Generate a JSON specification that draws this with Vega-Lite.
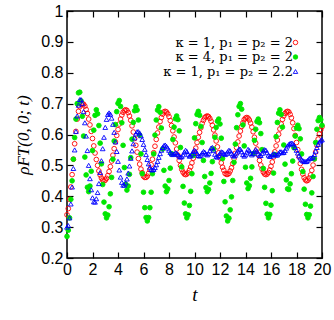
{
"$schema": "https://vega.github.io/schema/vega-lite/v6.json",
"width": 255, "height": 247,
"autosize": {"type": "none"},
"padding": {"left": 67, "top": 11, "right": 12, "bottom": 62},
"background": "white",
"config": {
  "view": {"stroke": "black", "strokeWidth": 1.5},
  "axis": {"grid": false, "domain": false, "tickColor": "black", "tickWidth": 1.2, "tickSize": -6, "labelColor": "black", "labelFont": "Liberation Sans", "labelFontSize": 16, "labelFlush": false, "labelOverlap": false, "titleColor": "black", "titleFont": "Liberation Serif", "titleFontStyle": "italic", "titleFontWeight": "normal"},
  "legend": {"title": null, "orient": "none", "legendX": 222, "legendY": 25, "labelAlign": "right", "labelOffset": -9, "labelFont": "DejaVu Serif", "labelFontSize": 13, "labelColor": "black", "labelLimit": 400, "rowPadding": 0.5, "padding": 0, "symbolSize": 20, "symbolStrokeWidth": 0.9}
},
"data": {"values": [
{"t":0.0,"s1":0.34,"s2":0.27,"s3":0.30},
{"t":0.1,"s1":0.36,"s2":0.29,"s3":0.305},
{"t":0.2,"s1":0.39,"s2":0.33,"s3":0.33},
{"t":0.3,"s1":0.43,"s2":0.39,"s3":0.375},
{"t":0.4,"s1":0.47,"s2":0.45,"s3":0.43},
{"t":0.5,"s1":0.52,"s2":0.52,"s3":0.49},
{"t":0.6,"s1":0.57,"s2":0.59,"s3":0.55},
{"t":0.7,"s1":0.61,"s2":0.65,"s3":0.61},
{"t":0.8,"s1":0.65,"s2":0.70,"s3":0.66},
{"t":0.9,"s1":0.675,"s2":0.735,"s3":0.695},
{"t":1.0,"s1":0.69,"s2":0.737,"s3":0.713},
{"t":1.1,"s1":0.698,"s2":0.709,"s3":0.713},
{"t":1.2,"s1":0.70,"s2":0.659,"s3":0.70},
{"t":1.3,"s1":0.698,"s2":0.595,"s3":0.674},
{"t":1.4,"s1":0.692,"s2":0.527,"s3":0.638},
{"t":1.5,"s1":0.681,"s2":0.469,"s3":0.595},
{"t":1.6,"s1":0.668,"s2":0.429,"s3":0.548},
{"t":1.7,"s1":0.65,"s2":0.415,"s3":0.50},
{"t":1.8,"s1":0.631,"s2":0.433,"s3":0.457},
{"t":1.9,"s1":0.61,"s2":0.481,"s3":0.421},
{"t":2.0,"s1":0.587,"s2":0.548,"s3":0.395},
{"t":2.1,"s1":0.563,"s2":0.614,"s3":0.382},
{"t":2.2,"s1":0.54,"s2":0.662,"s3":0.381},
{"t":2.3,"s1":0.519,"s2":0.68,"s3":0.392},
{"t":2.4,"s1":0.50,"s2":0.667,"s3":0.412},
{"t":2.5,"s1":0.482,"s2":0.629,"s3":0.441},
{"t":2.6,"s1":0.469,"s2":0.572,"s3":0.477},
{"t":2.7,"s1":0.459,"s2":0.505,"s3":0.515},
{"t":2.8,"s1":0.452,"s2":0.438,"s3":0.554},
{"t":2.9,"s1":0.45,"s2":0.381,"s3":0.591},
{"t":3.0,"s1":0.452,"s2":0.343,"s3":0.623},
{"t":3.1,"s1":0.458,"s2":0.33,"s3":0.649},
{"t":3.2,"s1":0.467,"s2":0.339,"s3":0.665},
{"t":3.3,"s1":0.48,"s2":0.366,"s3":0.67},
{"t":3.4,"s1":0.496,"s2":0.408,"s3":0.666},
{"t":3.5,"s1":0.514,"s2":0.461,"s3":0.653},
{"t":3.6,"s1":0.533,"s2":0.52,"s3":0.633},
{"t":3.7,"s1":0.554,"s2":0.579,"s3":0.607},
{"t":3.8,"s1":0.576,"s2":0.632,"s3":0.576},
{"t":3.9,"s1":0.597,"s2":0.674,"s3":0.545},
{"t":4.0,"s1":0.616,"s2":0.701,"s3":0.513},
{"t":4.1,"s1":0.634,"s2":0.71,"s3":0.485},
{"t":4.2,"s1":0.65,"s2":0.691,"s3":0.462},
{"t":4.3,"s1":0.663,"s2":0.638,"s3":0.445},
{"t":4.4,"s1":0.672,"s2":0.565,"s3":0.436},
{"t":4.5,"s1":0.678,"s2":0.493,"s3":0.436},
{"t":4.6,"s1":0.68,"s2":0.439,"s3":0.443},
{"t":4.7,"s1":0.678,"s2":0.42,"s3":0.456},
{"t":4.8,"s1":0.671,"s2":0.433,"s3":0.475},
{"t":4.9,"s1":0.66,"s2":0.471,"s3":0.498},
{"t":5.0,"s1":0.646,"s2":0.525,"s3":0.523},
{"t":5.1,"s1":0.628,"s2":0.585,"s3":0.547},
{"t":5.2,"s1":0.608,"s2":0.639,"s3":0.570},
{"t":5.3,"s1":0.587,"s2":0.677,"s3":0.589},
{"t":5.4,"s1":0.565,"s2":0.69,"s3":0.602},
{"t":5.5,"s1":0.543,"s2":0.679,"s3":0.609},
{"t":5.6,"s1":0.522,"s2":0.647,"s3":0.609},
{"t":5.7,"s1":0.504,"s2":0.598,"s3":0.605},
{"t":5.8,"s1":0.488,"s2":0.537,"s3":0.596},
{"t":5.9,"s1":0.476,"s2":0.473,"s3":0.584},
{"t":6.0,"s1":0.465,"s2":0.413,"s3":0.568},
{"t":6.1,"s1":0.461,"s2":0.363,"s3":0.552},
{"t":6.2,"s1":0.461,"s2":0.331,"s3":0.535},
{"t":6.3,"s1":0.465,"s2":0.32,"s3":0.519},
{"t":6.4,"s1":0.474,"s2":0.331,"s3":0.505},
{"t":6.5,"s1":0.486,"s2":0.363,"s3":0.494},
{"t":6.6,"s1":0.502,"s2":0.413,"s3":0.487},
{"t":6.7,"s1":0.52,"s2":0.473,"s3":0.485},
{"t":6.8,"s1":0.541,"s2":0.537,"s3":0.487},
{"t":6.9,"s1":0.562,"s2":0.598,"s3":0.493},
{"t":7.0,"s1":0.584,"s2":0.647,"s3":0.502},
{"t":7.1,"s1":0.605,"s2":0.679,"s3":0.513},
{"t":7.2,"s1":0.624,"s2":0.69,"s3":0.526},
{"t":7.3,"s1":0.642,"s2":0.672,"s3":0.538},
{"t":7.4,"s1":0.655,"s2":0.621,"s3":0.549},
{"t":7.5,"s1":0.666,"s2":0.553,"s3":0.558},
{"t":7.6,"s1":0.673,"s2":0.484,"s3":0.564},
{"t":7.7,"s1":0.675,"s2":0.433,"s3":0.566},
{"t":7.8,"s1":0.673,"s2":0.415,"s3":0.562},
{"t":7.9,"s1":0.667,"s2":0.424,"s3":0.556},
{"t":8.0,"s1":0.658,"s2":0.451,"s3":0.549},
{"t":8.1,"s1":0.645,"s2":0.491,"s3":0.542},
{"t":8.2,"s1":0.629,"s2":0.538,"s3":0.537},
{"t":8.3,"s1":0.612,"s2":0.584,"s3":0.535},
{"t":8.4,"s1":0.592,"s2":0.624,"s3":0.537},
{"t":8.5,"s1":0.573,"s2":0.651,"s3":0.541},
{"t":8.6,"s1":0.553,"s2":0.66,"s3":0.54},
{"t":8.7,"s1":0.533,"s2":0.648,"s3":0.535},
{"t":8.8,"s1":0.516,"s2":0.612,"s3":0.53},
{"t":8.9,"s1":0.50,"s2":0.558,"s3":0.527},
{"t":9.0,"s1":0.487,"s2":0.495,"s3":0.528},
{"t":9.1,"s1":0.478,"s2":0.432,"s3":0.534},
{"t":9.2,"s1":0.472,"s2":0.378,"s3":0.543},
{"t":9.3,"s1":0.47,"s2":0.343,"s3":0.549},
{"t":9.4,"s1":0.472,"s2":0.33,"s3":0.545},
{"t":9.5,"s1":0.476,"s2":0.34,"s3":0.536},
{"t":9.6,"s1":0.484,"s2":0.37,"s3":0.53},
{"t":9.7,"s1":0.495,"s2":0.416,"s3":0.531},
{"t":9.8,"s1":0.508,"s2":0.473,"s3":0.537},
{"t":9.9,"s1":0.523,"s2":0.532,"s3":0.545},
{"t":10.0,"s1":0.539,"s2":0.589,"s3":0.549},
{"t":10.1,"s1":0.556,"s2":0.635,"s3":0.546},
{"t":10.2,"s1":0.574,"s2":0.665,"s3":0.538},
{"t":10.3,"s1":0.591,"s2":0.675,"s3":0.532},
{"t":10.4,"s1":0.607,"s2":0.662,"s3":0.53},
{"t":10.5,"s1":0.622,"s2":0.626,"s3":0.533},
{"t":10.6,"s1":0.636,"s2":0.574,"s3":0.54},
{"t":10.7,"s1":0.646,"s2":0.516,"s3":0.545},
{"t":10.8,"s1":0.654,"s2":0.464,"s3":0.543},
{"t":10.9,"s1":0.658,"s2":0.428,"s3":0.537},
{"t":11.0,"s1":0.66,"s2":0.415,"s3":0.534},
{"t":11.1,"s1":0.658,"s2":0.422,"s3":0.538},
{"t":11.2,"s1":0.652,"s2":0.443,"s3":0.547},
{"t":11.3,"s1":0.643,"s2":0.474,"s3":0.556},
{"t":11.4,"s1":0.63,"s2":0.512,"s3":0.558},
{"t":11.5,"s1":0.615,"s2":0.553,"s3":0.549},
{"t":11.6,"s1":0.598,"s2":0.591,"s3":0.536},
{"t":11.7,"s1":0.579,"s2":0.623,"s3":0.528},
{"t":11.8,"s1":0.56,"s2":0.643,"s3":0.527},
{"t":11.9,"s1":0.541,"s2":0.65,"s3":0.532},
{"t":12.0,"s1":0.524,"s2":0.634,"s3":0.539},
{"t":12.1,"s1":0.508,"s2":0.588,"s3":0.544},
{"t":12.2,"s1":0.494,"s2":0.522,"s3":0.543},
{"t":12.3,"s1":0.484,"s2":0.448,"s3":0.538},
{"t":12.4,"s1":0.474,"s2":0.382,"s3":0.535},
{"t":12.5,"s1":0.471,"s2":0.336,"s3":0.538},
{"t":12.6,"s1":0.471,"s2":0.32,"s3":0.544},
{"t":12.7,"s1":0.474,"s2":0.329,"s3":0.549},
{"t":12.8,"s1":0.482,"s2":0.356,"s3":0.547},
{"t":12.9,"s1":0.492,"s2":0.398,"s3":0.539},
{"t":13.0,"s1":0.506,"s2":0.451,"s3":0.533},
{"t":13.1,"s1":0.522,"s2":0.51,"s3":0.53},
{"t":13.2,"s1":0.539,"s2":0.569,"s3":0.533},
{"t":13.3,"s1":0.558,"s2":0.622,"s3":0.54},
{"t":13.4,"s1":0.576,"s2":0.664,"s3":0.547},
{"t":13.5,"s1":0.595,"s2":0.691,"s3":0.553},
{"t":13.6,"s1":0.611,"s2":0.70,"s3":0.552},
{"t":13.7,"s1":0.626,"s2":0.682,"s3":0.544},
{"t":13.8,"s1":0.638,"s2":0.631,"s3":0.535},
{"t":13.9,"s1":0.648,"s2":0.563,"s3":0.53},
{"t":14.0,"s1":0.653,"s2":0.494,"s3":0.534},
{"t":14.1,"s1":0.655,"s2":0.443,"s3":0.543},
{"t":14.2,"s1":0.653,"s2":0.425,"s3":0.552},
{"t":14.3,"s1":0.647,"s2":0.434,"s3":0.548},
{"t":14.4,"s1":0.637,"s2":0.458,"s3":0.539},
{"t":14.5,"s1":0.624,"s2":0.495,"s3":0.534},
{"t":14.6,"s1":0.609,"s2":0.538,"s3":0.538},
{"t":14.7,"s1":0.591,"s2":0.581,"s3":0.546},
{"t":14.8,"s1":0.572,"s2":0.617,"s3":0.551},
{"t":14.9,"s1":0.553,"s2":0.642,"s3":0.546},
{"t":15.0,"s1":0.534,"s2":0.65,"s3":0.537},
{"t":15.1,"s1":0.516,"s2":0.638,"s3":0.531},
{"t":15.2,"s1":0.501,"s2":0.603,"s3":0.532},
{"t":15.3,"s1":0.488,"s2":0.551,"s3":0.539},
{"t":15.4,"s1":0.478,"s2":0.49,"s3":0.547},
{"t":15.5,"s1":0.472,"s2":0.429,"s3":0.551},
{"t":15.6,"s1":0.47,"s2":0.377,"s3":0.549},
{"t":15.7,"s1":0.472,"s2":0.342,"s3":0.541},
{"t":15.8,"s1":0.477,"s2":0.33,"s3":0.533},
{"t":15.9,"s1":0.485,"s2":0.341,"s3":0.529},
{"t":16.0,"s1":0.497,"s2":0.371,"s3":0.53},
{"t":16.1,"s1":0.511,"s2":0.418,"s3":0.535},
{"t":16.2,"s1":0.527,"s2":0.475,"s3":0.538},
{"t":16.3,"s1":0.544,"s2":0.535,"s3":0.536},
{"t":16.4,"s1":0.563,"s2":0.593,"s3":0.533},
{"t":16.5,"s1":0.582,"s2":0.639,"s3":0.534},
{"t":16.6,"s1":0.601,"s2":0.669,"s3":0.539},
{"t":16.7,"s1":0.618,"s2":0.68,"s3":0.544},
{"t":16.8,"s1":0.634,"s2":0.665,"s3":0.544},
{"t":16.9,"s1":0.649,"s2":0.624,"s3":0.541},
{"t":17.0,"s1":0.66,"s2":0.566,"s3":0.542},
{"t":17.1,"s1":0.668,"s2":0.504,"s3":0.548},
{"t":17.2,"s1":0.673,"s2":0.453,"s3":0.556},
{"t":17.3,"s1":0.675,"s2":0.424,"s3":0.563},
{"t":17.4,"s1":0.673,"s2":0.422,"s3":0.568},
{"t":17.5,"s1":0.665,"s2":0.44,"s3":0.571},
{"t":17.6,"s1":0.654,"s2":0.473,"s3":0.572},
{"t":17.7,"s1":0.638,"s2":0.514,"s3":0.571},
{"t":17.8,"s1":0.619,"s2":0.557,"s3":0.566},
{"t":17.9,"s1":0.597,"s2":0.595,"s3":0.558},
{"t":18.0,"s1":0.574,"s2":0.621,"s3":0.549},
{"t":18.1,"s1":0.551,"s2":0.63,"s3":0.54},
{"t":18.2,"s1":0.528,"s2":0.619,"s3":0.531},
{"t":18.3,"s1":0.506,"s2":0.586,"s3":0.524},
{"t":18.4,"s1":0.487,"s2":0.537,"s3":0.518},
{"t":18.5,"s1":0.472,"s2":0.48,"s3":0.515},
{"t":18.6,"s1":0.46,"s2":0.423,"s3":0.513},
{"t":18.7,"s1":0.453,"s2":0.374,"s3":0.512},
{"t":18.8,"s1":0.45,"s2":0.341,"s3":0.513},
{"t":18.9,"s1":0.452,"s2":0.33,"s3":0.517},
{"t":19.0,"s1":0.459,"s2":0.34,"s3":0.522},
{"t":19.1,"s1":0.469,"s2":0.368,"s3":0.524},
{"t":19.2,"s1":0.484,"s2":0.411,"s3":0.524},
{"t":19.3,"s1":0.501,"s2":0.464,"s3":0.527},
{"t":19.4,"s1":0.521,"s2":0.521,"s3":0.535},
{"t":19.5,"s1":0.543,"s2":0.574,"s3":0.546},
{"t":19.6,"s1":0.565,"s2":0.617,"s3":0.558},
{"t":19.7,"s1":0.585,"s2":0.645,"s3":0.568},
{"t":19.8,"s1":0.602,"s2":0.655,"s3":0.576},
{"t":19.9,"s1":0.615,"s2":0.648,"s3":0.58},
{"t":20.0,"s1":0.625,"s2":0.63,"s3":0.583}
]},
"layer": [
  {
    "transform": [{"fold": ["s1", "s2", "s3"], "as": ["key", "y"]}],
    "mark": {"type": "point", "size": 22, "strokeWidth": 0.9, "opacity": 1},
    "encoding": {
      "x": {"field": "t", "type": "quantitative", "scale": {"domain": [0, 20], "nice": false, "zero": false},
            "axis": {"orient": "bottom", "values": [0,2,4,6,8,10,12,14,16,18,20], "labelPadding": 9, "title": "t", "titleFontSize": 19, "titlePadding": 8}},
      "y": {"field": "y", "type": "quantitative", "scale": {"domain": [0.2, 1], "nice": false, "zero": false},
            "axis": {"orient": "left", "values": [0.2,0.3,0.4,0.5,0.6,0.7,0.8,0.9,1], "format": "~g", "labelPadding": 10, "title": "ρFT(0, 0; t)", "titleFontSize": 17, "titlePadding": 8}},
      "order": {"field": "key"},
      "stroke": {"field": "key", "type": "nominal", "scale": {"domain": ["s1", "s2", "s3"], "range": ["#ff0000", "#00e600", "#0000ff"]},
                 "legend": {"labelExpr": "datum.label == 's1' ? 'κ = 1, p₁ = p₂ = 2' : datum.label == 's2' ? 'κ = 4, p₁ = p₂ = 2' : 'κ = 1, p₁ = p₂ = 2.2'"}},
      "fill": {"field": "key", "type": "nominal", "scale": {"domain": ["s1", "s2", "s3"], "range": ["transparent", "#00e600", "transparent"]},
                 "legend": {"labelExpr": "datum.label == 's1' ? 'κ = 1, p₁ = p₂ = 2' : datum.label == 's2' ? 'κ = 4, p₁ = p₂ = 2' : 'κ = 1, p₁ = p₂ = 2.2'"}},
      "shape": {"field": "key", "type": "nominal", "scale": {"domain": ["s1", "s2", "s3"], "range": ["circle", "circle", "triangle-up"]},
                 "legend": {"labelExpr": "datum.label == 's1' ? 'κ = 1, p₁ = p₂ = 2' : datum.label == 's2' ? 'κ = 4, p₁ = p₂ = 2' : 'κ = 1, p₁ = p₂ = 2.2'"}}
    }
  },
  {
    "mark": {"type": "point", "opacity": 0},
    "encoding": {
      "x": {"field": "t", "type": "quantitative", "axis": {"orient": "top", "values": [0,2,4,6,8,10,12,14,16,18,20], "labels": false, "title": null}},
      "y": {"field": "s1", "type": "quantitative", "axis": {"orient": "right", "values": [0.2,0.3,0.4,0.5,0.6,0.7,0.8,0.9,1], "labels": false, "title": null}}
    }
  }
],
"resolve": {"axis": {"x": "independent", "y": "independent"}}
}
